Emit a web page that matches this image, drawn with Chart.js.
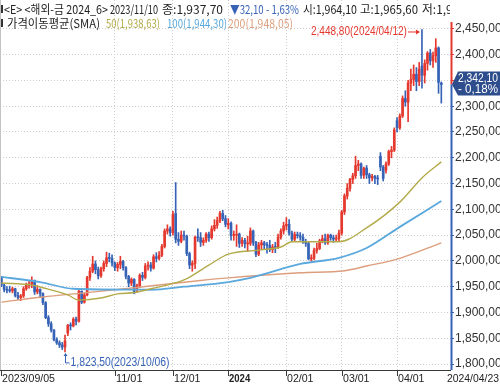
<!DOCTYPE html>
<html>
<head>
<meta charset="utf-8">
<title>해외-금 2024_6</title>
<script src="https://cdn.jsdelivr.net/npm/chart.js@4.4.1/dist/chart.umd.min.js"></script>
<style>
  html, body { margin: 0; padding: 0; background: #fff; overflow: hidden; }
  #box { width: 500px; height: 386px; }
</style>
</head>
<body>
<div id="box"><canvas id="chart" width="500" height="386"></canvas></div>
<script>
// 거래일 (월별)
const months = [
  ['2023/09', '05 06 07 08 11 12 13 14 15 18 19 20 21 22 25 26 27 28 29'],
  ['2023/10', '02 03 04 05 06 09 10 11 12 13 16 17 18 19 20 23 24 25 26 27 30 31'],
  ['2023/11', '01 02 03 06 07 08 09 10 13 14 15 16 17 20 21 22 24 27 28 29 30'],
  ['2023/12', '01 04 05 06 07 08 11 12 13 14 15 18 19 20 21 22 26 27 28 29'],
  ['2024/01', '02 03 04 05 08 09 10 11 12 16 17 18 19 22 23 24 25 26 29 30 31'],
  ['2024/02', '01 02 05 06 07 08 09 12 13 14 15 16 20 21 22 23 26 27 28 29'],
  ['2024/03', '01 04 05 06 07 08 11 12 13 14 15 18 19 20 21 22 25 26 27 28'],
  ['2024/04', '01 02 03 04 05 08 09 10 11 12 15 16 17 18 19 22 23']
];
const dates = months.flatMap(([m, d]) => d.split(' ').map(v => m + '/' + v));

// 시가 / 고가 / 저가 / 종가
const open = [
  1968,1953,1944,1943,1942,1946,1933,1929,1932,1946,
  1953,1955,1962,1940,1945,1937,1919,1890,1878,1866,
  1847,1841,1837,1833,1860,1875,1874,1887,1883,1941,
  1920,1934,1968,1980,1994,1983,1971,1985,1995,2006,
  2005,1996,1987,1993,1999,1987,1970,1957,1964.1,1945,
  1952,1972,1968,1990,1992,1986,2008,2005,2011,2028,
  2058,2062,2055,2092,2042,2038,2050,2048,2014,1992,
  1995,2046,2045,2036,2040,2052,2045,2062,2069,2078,
  2092,2082,2070,2073,2049,2050,2052,2034,2040,2033,
  2034,2058,2036,2013,2031,2035,2031,2030,2022,2027,
  2026,2046,2058,2068,2071,2054,2042,2051,2049,2046,
  2038,2034,2004,2005,2020,2024,2039,2043,2035,2050,
  2045,2042,2043,2054,2095,2126,2141,2158,2165,2185,
  2188,2166,2180,2167,2161,2164,2160,2203,2182,2176,
  2188,2212,2215,2272,2258,2281,2315,2308,2345,2352,
  2362,2348,2378,2360,2383,2403,2388,2398,2413,2345
];
const high = [
  1970,1955,1950,1951,1949,1947,1939,1935,1950,1957,
  1961,1969,1963,1952,1946,1938,1921,1894,1882,1867,
  1851,1845,1842,1856,1877,1880,1890,1891,1946,1942,
  1937,1970,1987,2009,2000,1988,1988,2000,2017,2015,
  2012,1998,1997,2009,2001,1989,1972,1967,1965.6,1955,
  1975,1978,1995,1998,1997,2012,2016,2018,2032,2062,
  2070,2066,2096,2152,2055,2058,2058,2050,2017,2000,
  2048,2062,2055,2045,2055,2056,2068,2080,2085,2096,
  2098,2088,2082,2076,2058,2070,2054,2045,2044,2048,
  2064,2060,2038,2036,2040,2038,2036,2040,2032,2036,
  2052,2062,2075,2084,2080,2058,2056,2056,2055,2052,
  2042,2038,2012,2025,2034,2042,2050,2052,2052,2052,
  2050,2050,2060,2098,2130,2150,2160,2170,2203,2195,
  2190,2182,2185,2170,2168,2166,2166,2210,2185,2192,
  2215,2222,2258,2278,2285,2320,2330,2350,2372,2380,
  2375,2385,2448.8,2390,2406,2410,2405,2431,2415,2347
];
const low = [
  1950,1940,1938,1939,1938,1930,1925,1923,1929,1943,
  1947,1948,1935,1936,1930,1915,1888,1873,1862,1845,
  1838,1832,1828,1823.5,1855,1866,1872,1876,1881,1917,
  1918,1932,1962,1977,1975,1965,1968,1980,1989,1998,
  1990,1981,1980,1985,1982,1965,1950,1952,1936.2,1940,
  1948,1962,1965,1982,1980,1984,1998,2002,2008,2025,
  2052,2048,2050,2035,2030,2035,2040,2010,1985,1980,
  1985,2038,2028,2030,2036,2038,2042,2058,2063,2074,
  2078,2066,2062,2040,2040,2028,2026,2028,2025,2018,
  2030,2030,2008,2010,2022,2022,2015,2018,2016,2016,
  2024,2042,2052,2060,2050,2038,2038,2044,2040,2034,
  2028,2002,2000,2002,2015,2022,2035,2032,2032,2040,
  2036,2038,2038,2050,2090,2120,2135,2150,2160,2175,
  2160,2160,2160,2150,2155,2150,2148,2175,2155,2170,
  2185,2200,2212,2250,2255,2278,2300,2270,2330,2340,
  2330,2340,2335,2345,2370,2380,2375,2385,2325,2306
];
const close = [
  1953,1944,1943,1942,1946,1933,1929,1932,1946,1953,
  1955,1962,1940,1945,1937,1919,1890,1878,1866,1847,
  1841,1837,1833,1845,1875,1874,1887,1883,1941,1920,
  1934,1968,1980,1994,1983,1971,1985,1995,2006,2005,
  1996,1987,1993,1999,1987,1970,1957,1964,1937.7,1952,
  1972,1968,1990,1992,1986,2008,2005,2011,2028,2058,
  2062,2055,2090,2042,2038,2050,2048,2014,1992,1995,
  2046,2045,2036,2040,2052,2045,2062,2069,2078,2092,
  2082,2071,2073,2049,2050,2052,2034,2040,2033,2034,
  2058,2036,2013,2031,2035,2031,2030,2022,2027,2026,
  2046,2058,2068,2071,2054,2042,2051,2049,2046,2038,
  2034,2004,2005,2020,2024,2039,2043,2035,2050,2045,
  2042,2043,2054,2095,2126,2141,2158,2165,2185,2188,
  2166,2180,2167,2161,2164,2160,2159,2182,2160,2188,
  2212,2215,2254,2258,2281,2315,2308,2345,2352,2362,
  2348,2372,2360,2383,2403,2388,2398,2413,2346.3,2342.1
];

// 이동평균
const sma50Dates = ['2023/09/05','2023/09/20','2023/09/26','2023/10/09','2023/10/13','2023/10/25','2023/11/02','2023/11/10','2023/11/20','2023/12/07','2023/12/20','2024/01/02','2024/01/18','2024/01/30','2024/02/05','2024/02/14','2024/02/29','2024/03/14','2024/04/02','2024/04/12','2024/04/23'];
const sma50 = [1957,1953,1948,1934,1924,1928,1936,1938.63,1946,1963,1992,2013,2021,2027,2037,2037,2037,2064,2114,2161,2192];
const sma100Dates = ['2023/09/05','2023/09/25','2023/10/11','2023/11/10','2023/11/20','2023/12/07','2024/01/02','2024/01/12','2024/02/08','2024/02/29','2024/03/14','2024/04/02','2024/04/23'];
const sma100 = [1969,1959,1946,1944.3,1944,1950,1959,1967,1994,2006,2025,2066,2116];
const sma200Dates = ['2023/09/05','2023/09/26','2023/10/17','2023/11/10','2023/12/15','2024/01/02','2024/02/08','2024/03/04','2024/03/14','2024/04/02','2024/04/23'];
const sma200 = [1920,1930,1938,1948.05,1962,1967,1977,1981,1990,2005,2035];

// 축
const yTicks = [1800,1850,1900,1950,2000,2050,2100,2150,2200,2250,2300,2350,2400,2450];
const yMin = 1788.4, yMax = 2506;
const tickDates = ['2023/09/05','2023/11/01','2023/12/01','2024/01/02','2024/02/01','2024/03/01','2024/04/01'];
const tickLabels = ['2023/09/05','11/01','12/01','2024','02/01','03/01','04/01'];

const RED = '#e5382e', BLUE = '#3763b6', NAVY = '#2e4d8c', GRID = '#cdcdcd';
const C50 = '#b3ab4a', C100 = '#5aa8dc', C200 = '#dc9e7c';

const headerRows = [
  [['<E> <해외-금 2024_6>', 4, 104, '#222'], ['2023/11/10', 110, 48, '#222'], ['종:1,937,70', 162, 65, '#222'],
   ['▼32,10 - 1,63%', 230, 69, BLUE], ['시:1,964,10', 303, 54, '#222'], ['고:1,965,60', 360, 58, '#222'], ['저:1,936,20', 422, 60, '#222']],
  [['가격이동평균(SMA)', 7, 93, '#222'], ['50(1,938,63)', 106, 54, C50], ['100(1,944,30)', 167, 60, C100], ['200(1,948,05)', 228, 65, C200]]
];

function fmt(v) {
  const [i, d] = v.toFixed(2).split('.');
  return i.replace(/\B(?=(\d{3})+(?!\d))/g, ',') + ',' + d;
}
function seg(ctx, x1, y1, x2, y2) {
  ctx.beginPath(); ctx.moveTo(x1, y1); ctx.lineTo(x2, y2); ctx.stroke();
}

const overlay = {
  id: 'overlay',
  afterDraw(chart) {
    const { ctx, chartArea: a, scales: { x, y } } = chart;
    const n = close.length;
    const last = close[n - 1], prev = close[n - 2];
    const yCur = y.getPixelForValue(last);
    ctx.save();

    // 테두리, x축
    ctx.lineWidth = 1;
    ctx.strokeStyle = '#c4c4c4';
    seg(ctx, 0.5, 0, 0.5, a.bottom);
    ctx.strokeStyle = '#3a3a3a';
    seg(ctx, 0, a.bottom + 0.5, a.right, a.bottom + 0.5);

    ctx.textBaseline = 'middle';
    ctx.fillStyle = '#222';
    tickDates.forEach((d, k) => {
      const px = Math.round(x.getPixelForValue(dates.indexOf(d)));
      seg(ctx, px + 0.5, a.bottom, px + 0.5, a.bottom + 6);
      ctx.font = (k === 3 ? 'bold ' : '') + '11px "Liberation Sans", Arial';
      ctx.fillText(tickLabels[k], px + 1, a.bottom + 9, tickLabels[k].length * 5.3);
    });
    ctx.font = '11px "Liberation Sans", Arial';
    ctx.textAlign = 'right';
    ctx.fillText(dates[n - 1], 499, a.bottom + 9, 52);
    ctx.textAlign = 'left';

    // 오른쪽 축선
    ctx.lineWidth = 2;
    ctx.strokeStyle = RED; seg(ctx, a.right + 0.5, 22, a.right + 0.5, yCur);
    ctx.strokeStyle = BLUE; seg(ctx, a.right + 0.5, yCur, a.right + 0.5, a.bottom);

    // 현재가 표시
    ctx.fillStyle = NAVY;
    ctx.beginPath();
    ctx.moveTo(a.right + 1, yCur);
    ctx.lineTo(a.right + 7, yCur - 13);
    ctx.lineTo(500, yCur - 13);
    ctx.lineTo(500, yCur + 11);
    ctx.lineTo(a.right + 7, yCur + 11);
    ctx.closePath(); ctx.fill();
    ctx.fillStyle = '#fff';
    ctx.font = '12px "Liberation Sans", Arial';
    const pct = (last - prev) / prev * 100;
    ctx.fillText(fmt(last), a.right + 7, yCur - 6, 40);
    ctx.fillText((pct < 0 ? '- ' : '') + Math.abs(pct).toFixed(2).replace('.', ',') + '%', a.right + 7, yCur + 5, 40);

    // 최고가 / 최저가
    const hi = high.indexOf(Math.max(...high));
    const lo = low.indexOf(Math.min(...low));
    const hx = x.getPixelForValue(hi), hy = y.getPixelForValue(high[hi]);
    ctx.strokeStyle = RED; ctx.fillStyle = RED; ctx.lineWidth = 1;
    ctx.font = '12px "Liberation Sans", Arial';
    ctx.textAlign = 'right';
    ctx.fillText(fmt(high[hi]) + '(' + dates[hi] + ')', hx - 15, hy + 2, 96);
    ctx.textAlign = 'left';
    seg(ctx, hx - 14, hy + 2.5, hx - 3, hy + 2.5);
    ctx.beginPath(); ctx.moveTo(hx - 2, hy + 2.5); ctx.lineTo(hx - 6, hy); ctx.lineTo(hx - 6, hy + 5); ctx.closePath(); ctx.fill();

    const lx = Math.round(x.getPixelForValue(lo)) + 0.5, ly = y.getPixelForValue(low[lo]);
    ctx.strokeStyle = BLUE; ctx.fillStyle = BLUE;
    ctx.beginPath(); ctx.moveTo(lx, ly + 2); ctx.lineTo(lx, ly + 11); ctx.lineTo(lx + 4, ly + 11); ctx.stroke();
    ctx.beginPath(); ctx.moveTo(lx, ly + 1); ctx.lineTo(lx - 2, ly + 4); ctx.lineTo(lx + 2, ly + 4); ctx.closePath(); ctx.fill();
    ctx.fillText(fmt(low[lo]) + '(' + dates[lo] + ')', lx + 5, ly + 11, 99);

    // 상단 정보
    ctx.beginPath(); ctx.rect(0, 0, a.right - 1, 40); ctx.clip();
    ctx.font = '12px "Noto Sans CJK KR", "Liberation Sans", sans-serif';
    headerRows.forEach((row, r) => {
      const cy = 9 + r * 14;
      ctx.fillStyle = '#333';
      ctx.fillRect(1, cy - 4, 2, 8);
      row.forEach(([s, px, w, col]) => {
        ctx.fillStyle = col;
        ctx.fillText(s, px, cy, w);
      });
    });
    ctx.restore();
  }
};

const candleColor = close.map((c, i) => c >= open[i] ? RED : BLUE);
const sma = (ds, vs) => ds.map((d, k) => ({ x: d, y: vs[k] }));
const smaLine = (label, data, color, width) => ({
  type: 'line', label, data, borderColor: color, borderWidth: width,
  pointRadius: 0, cubicInterpolationMode: 'monotone', fill: false, order: 0
});

new Chart(document.getElementById('chart'), {
  type: 'bar',
  data: {
    labels: dates.concat(['', '', '']),
    datasets: [
      smaLine('SMA50', sma(sma50Dates, sma50), C50, 1.4),
      smaLine('SMA100', sma(sma100Dates, sma100), C100, 1.8),
      smaLine('SMA200', sma(sma200Dates, sma200), C200, 1.4),
      {
        label: 'body', data: open.map((o, i) => [o, close[i]]),
        backgroundColor: candleColor, barThickness: 2, minBarLength: 1,
        grouped: false, borderWidth: 0, order: 1
      },
      {
        label: 'wick', data: low.map((l, i) => [l, high[i]]),
        backgroundColor: candleColor, barThickness: 1,
        grouped: false, borderWidth: 0, order: 2
      }
    ]
  },
  options: {
    responsive: false,
    animation: false,
    devicePixelRatio: 1,
    layout: { padding: 0 },
    plugins: { legend: { display: false }, tooltip: { enabled: false } },
    scales: {
      x: {
        type: 'category',
        offset: true,
        grid: {
          offset: false, drawTicks: false, lineWidth: 1,
          color: c => (c.index > 0 && tickDates.includes(dates[c.index])) ? GRID : 'rgba(0,0,0,0)'
        },
        border: { display: false, dash: [1, 2] },
        ticks: { display: false, autoSkip: false },
        afterFit(s) { s.height = 16; s.paddingLeft = 0; s.paddingRight = 0; }
      },
      y: {
        position: 'right',
        min: yMin,
        max: yMax,
        grid: {
          color: GRID, lineWidth: 1, drawTicks: true, tickLength: 3, tickWidth: 1, tickBorderDash: [],
          tickColor: c => (c.tick && c.tick.value > close[close.length - 1]) ? RED : BLUE
        },
        border: { display: false, dash: [1, 2] },
        ticks: {
          color: '#333', padding: 1,
          font: { family: '"Liberation Sans", Arial', size: 12 },
          callback: v => fmt(v)
        },
        afterBuildTicks(s) { s.ticks = yTicks.map(v => ({ value: v })); },
        afterFit(s) { s.width = 49; s.paddingTop = 0; s.paddingBottom = 0; }
      }
    }
  },
  plugins: [overlay]
});
</script>
</body>
</html>
